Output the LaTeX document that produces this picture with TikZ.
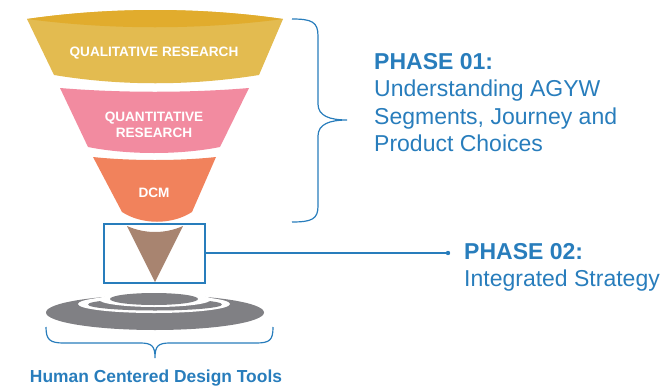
\documentclass[tikz,border=0pt]{standalone}
\usepackage{fontspec}
\setmainfont{Liberation Sans}
\usetikzlibrary{positioning,calc}
\definecolor{phaseblue}{RGB}{40,125,188}
\definecolor{qualyellow}{RGB}{227,187,80}
\definecolor{qualtop}{RGB}{225,172,45}
\definecolor{quantpink}{RGB}{242,139,160}
\definecolor{dcmorange}{RGB}{241,130,92}
\definecolor{conebrown}{RGB}{168,132,112}
\definecolor{basegray}{RGB}{128,128,132}

\begin{document}
\begin{tikzpicture}[x=1pt, y=-1pt,
    layer/.style={draw=none},
    label/.style={text=white, font=\fontsize{13.6}{16}\selectfont\bfseries, align=center},
    phase/.style={text=phaseblue, font=\fontsize{23}{27.5}\selectfont, align=left, inner sep=0pt, anchor=north west},
    link/.style={draw=phaseblue, line width=1.2pt}]
    \useasboundingbox (0,0) rectangle (662,386);

    % funnel
    \fill[qualyellow] (27,19) -- (54,75) .. controls (120,86) and (190,86) .. (259,75) -- (283,19) .. controls (200,7) and (110,7) .. cycle;
    \fill[qualtop] (27,19) .. controls (110,30) and (200,30) .. (283,19) .. controls (200,7) and (110,7) .. cycle;
    \fill[quantpink] (60,88) .. controls (120,93) and (190,93) .. (249,88) -- (220,147) .. controls (180,155) and (128,155) .. (88,147) -- cycle;
    \fill[dcmorange] (93,157) .. controls (130,161) and (180,161) .. (216,157) -- (192,212) .. controls (172,225) and (142,225) .. (122,212) -- cycle;
    \fill[conebrown] (127,226) .. controls (145,234) and (165,234) .. (183,226) -- (155,282) -- cycle;

    \node[label] (qual) at (154,53) {QUALITATIVE RESEARCH};
    \node[label] (quant) at (154,125) {QUANTITATIVE\\RESEARCH};
    \node[label] (dcm) at (154,193) {DCM};

    % base rings
    \fill[basegray] (155,312.5) ellipse [x radius=109, y radius=17.5];
    \fill[white] (154,304) ellipse [x radius=76, y radius=9];
    \fill[basegray] (155,304.5) ellipse [x radius=67, y radius=6];
    \fill[white] (155,299.5) ellipse [x radius=56, y radius=7.5];
    \fill[basegray] (154,299) ellipse [x radius=44, y radius=6];

    % braces
    \draw[link] (292,19) .. controls (312,19) and (318,22) .. (318,36) -- (318,104) .. controls (318,116) and (330,120) .. (347,120)
        .. controls (330,120) and (318,124) .. (318,136) -- (318,206) .. controls (318,219) and (312,222) .. (292,222);
    \draw[link] (46,327) .. controls (46,340) and (50,343) .. (64,343) -- (140,343) .. controls (152,343) and (155,346) .. (155,358)
        .. controls (155,346) and (158,343) .. (170,343) -- (256,343) .. controls (270,343) and (273,340) .. (273,327);

    % phase 02 link
    \node[draw=phaseblue, line width=1.2pt, minimum width=101pt, minimum height=59pt, inner sep=0pt] (conebox) at (154.5,253.5) {};
    \coordinate (dot) at (448,253);
    \draw[link] (conebox.east |- dot) -- (dot);
    \fill[phaseblue] (dot) circle (2.2);

    \node[phase] (phase1) at (374,53) {\textbf{PHASE 01:}\\Understanding AGYW\\Segments, Journey and\\Product Choices};
    \node[phase] (phase2) at (464,243) {\textbf{PHASE 02:}\\Integrated Strategy};
    \node[text=phaseblue, font=\fontsize{17.4}{20}\selectfont\bfseries, anchor=base] (hcd) at (156,382) {Human Centered Design Tools};
\end{tikzpicture}
\end{document}
